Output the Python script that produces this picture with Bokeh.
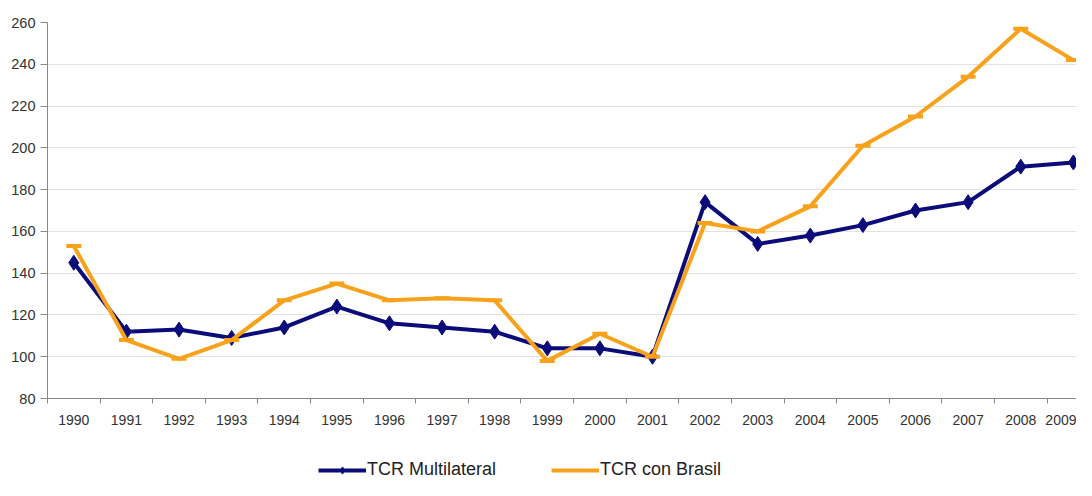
from bokeh.plotting import figure
from bokeh.layouts import column
from bokeh.models import Range1d, FixedTicker, Legend, LegendItem
from bokeh.embed import file_html
from bokeh.resources import INLINE

years = list(range(1990, 2010))
tcr_multilateral = [145, 112, 113, 109, 114, 124, 116, 114, 112, 104, 104, 100, 174, 154, 158, 163, 170, 174, 191, 193]
tcr_brasil = [153, 108, 99, 108, 127, 135, 127, 128, 127, 98, 111, 100, 164, 160, 172, 201, 215, 234, 257, 242]
y_ticks = [80, 100, 120, 140, 160, 180, 200, 220, 240, 260]

navy = "#0B0B7A"
orange = "#F8A21C"
font = "Liberation Sans"

p = figure(width=1076, height=440, output_backend="svg", toolbar_location=None,
           x_range=Range1d(1989.5, 2009.06), y_range=Range1d(80, 260),
           min_border_left=47, min_border_right=0, min_border_top=22, min_border_bottom=42)
p.outline_line_color = None
p.background_fill_color = "white"

p.xaxis.ticker = FixedTicker(ticks=years, minor_ticks=[y - 0.5 for y in years] + [2009.5])
p.xaxis.major_tick_line_color = None
p.xaxis.minor_tick_out = 5
p.xaxis.minor_tick_in = 0
p.xaxis.minor_tick_line_color = "#888888"
p.xaxis.axis_line_color = "#888888"
p.xaxis.major_label_text_font = font
p.xaxis.major_label_text_font_size = "14px"
p.xaxis.major_label_text_color = "#333333"
p.xaxis.major_label_standoff = 10
p.xgrid.grid_line_color = None

p.yaxis.ticker = FixedTicker(ticks=y_ticks)
p.yaxis.minor_tick_line_color = None
p.yaxis.major_tick_out = 7
p.yaxis.major_tick_in = 0
p.yaxis.major_tick_line_color = "#888888"
p.yaxis.axis_line_color = "#888888"
p.yaxis.major_label_text_font = font
p.yaxis.major_label_text_font_size = "14.5px"
p.yaxis.major_label_text_color = "#333333"
p.yaxis.major_label_standoff = 5
p.ygrid.grid_line_color = "#e2e2e2"
p.ygrid.grid_line_width = 1

p.line(years, tcr_multilateral, line_color=navy, line_width=4)
p.scatter(years, tcr_multilateral, marker="diamond", size=15, fill_color=navy, line_color=navy)
p.line(years, tcr_brasil, line_color=orange, line_width=4)
p.scatter(years, tcr_brasil, marker="dash", size=15, line_color=orange, line_width=4)

# Legend strip below the chart (glyphs fall outside its ranges, only legend shows)
q = figure(width=1076, height=40, output_backend="svg", toolbar_location=None,
           x_range=Range1d(0, 1), y_range=Range1d(0, 1),
           x_axis_type=None, y_axis_type=None,
           min_border_left=0, min_border_right=0, min_border_top=0, min_border_bottom=0)
q.outline_line_color = None
q.xgrid.grid_line_color = None
q.ygrid.grid_line_color = None
g1 = q.line(years, tcr_multilateral, line_color=navy, line_width=4)
g1m = q.scatter(years, tcr_multilateral, marker="diamond", size=24, fill_color=navy, line_color=navy)
g2 = q.line(years, tcr_brasil, line_color=orange, line_width=4)

legend = Legend(items=[LegendItem(label="TCR Multilateral", renderers=[g1, g1m]),
                       LegendItem(label="TCR con Brasil", renderers=[g2])],
                orientation="horizontal", location=(271, 0),
                label_text_font=font, label_text_font_size="18px",
                label_text_color="#222222", glyph_width=48, glyph_height=18,
                label_standoff=1, spacing=55, padding=0, margin=0,
                border_line_color=None, background_fill_alpha=0)
q.add_layout(legend, "center")

layout = column(p, q, spacing=0)
open("out.html", "w").write(file_html(layout, INLINE))
